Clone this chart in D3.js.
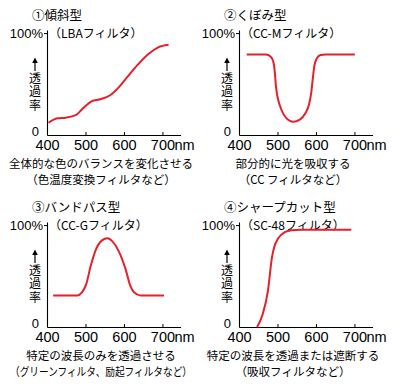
<!DOCTYPE html>
<html>
<head>
<meta charset="utf-8">
<script src="https://cdn.jsdelivr.net/npm/d3@7"></script>
<style>
  body { margin: 0; background: #fff; }
  svg { display: block; font-family: 'Liberation Sans', 'Noto Sans CJK JP', sans-serif; }
  .jp { font-family: 'Noto Sans CJK JP', sans-serif; }
</style>
</head>
<body>
<script>
// Width and height
const w = 394;
const h = 387;

// Tick values / labels
const xTicks = [400, 500, 600, 700];
const yTicks = [0, 100];

// Panel texts
const titles = ['①傾斜型', '②くぼみ型', '③バンドパス型', '④シャープカット型'];
const subtitles = ['（LBAフィルタ）', '（CC-Mフィルタ）', '（CC-Gフィルタ）', '（SC-48フィルタ）'];
const captions1 = ['全体的な色のバランスを変化させる', '部分的に光を吸収する', '特定の波長のみを透過させる', '特定の波長を透過または遮断する'];
const captions2 = ['（色温度変換フィルタなど）', '（CC フィルタなど）', '（グリーンフィルタ、励起フィルタなど）', '（吸収フィルタなど）'];
const yLabel = '透過率';

// Curves: wavelength (nm) and transmittance (%)
const slopeNm = [404, 427, 449, 476, 493, 516, 538, 564, 587, 609, 636, 662, 689, 716];
const slopePct = [12, 16.4, 17, 19.7, 26, 33, 35, 39, 47, 57, 69, 79, 86, 88.5];

const dipNm = [420, 470, 482, 489, 493, 496, 501, 510, 522, 541, 558, 572, 582, 588, 592, 596, 602, 612, 625, 701];
const dipPct = [79, 79, 77, 72, 62, 48, 36, 25, 17, 13, 15, 21, 30, 42, 56, 68, 75, 78.5, 79, 79];

const bandNm = [416, 478, 491, 502, 513, 526, 543, 557, 570, 587, 604, 617, 626, 643, 704];
const bandPct = [31, 31, 34, 42, 59, 75, 85, 87, 84, 74, 57, 40, 34, 31, 31];

const cutNm = [447, 462, 475, 486, 492, 502, 519, 537, 560, 692];
const cutPct = [0, 13, 35, 69, 79, 87, 93, 95, 95.5, 95.5];

const curves = [
  [slopeNm, slopePct],
  [dipNm, dipPct],
  [bandNm, bandPct],
  [cutNm, cutPct]
];

// Panel offsets
const offsets = [[0, 0], [192, 0], [0, 192], [192, 192]];

// Scales (panel-local)
const x = d3.scaleLinear().domain([400, 747]).range([47, 180.5]);
const y = d3.scaleLinear().domain([0, 103]).range([135, 30]);

const line = d3
  .line()
  .x(d => x(d[0]))
  .y(d => y(d[1]))
  .curve(d3.curveMonotoneX);

const svg = d3
  .select('body')
  .append('svg')
  .attr('width', w)
  .attr('height', h);

titles.forEach((title, i) => {
  const g = svg
    .append('g')
    .attr('transform', 'translate(' + offsets[i][0] + ',' + offsets[i][1] + ')');

  // Title and subtitle
  g.append('text')
    .attr('class', 'jp')
    .attr('x', 32)
    .attr('y', 19.5)
    .style('font-size', '12.5px')
    .text(title);
  g.append('text')
    .attr('class', 'jp')
    .attr('x', 49)
    .attr('y', 37.5)
    .style('font-size', '12px')
    .text(subtitles[i]);

  // X axis
  const xAxis = g
    .append('g')
    .attr('transform', 'translate(0,' + y(0) + ')')
    .call(
      d3
        .axisBottom(x)
        .tickValues(xTicks)
        .tickSize(-3)
        .tickSizeOuter(0)
        .tickPadding(5)
    );
  xAxis.selectAll('text').style('font-size', '14.5px').attr('fill', '#000').style('font-family', 'Liberation Sans');
  // "nm" after 700
  const last = xAxis.selectAll('.tick text').filter(d => d === 700);
  const lw = last.node().getComputedTextLength();
  xAxis
    .append('text')
    .attr('x', x(700) + lw / 2)
    .attr('y', 5)
    .attr('dy', '0.71em')
    .attr('text-anchor', 'start')
    .attr('fill', '#000')
    .style('font-size', '14.5px')
    .style('font-family', 'Liberation Sans')
    .text('nm');

  // Y axis
  const yAxis = g
    .append('g')
    .attr('transform', 'translate(' + x(400) + ',0)')
    .call(
      d3
        .axisLeft(y)
        .tickValues(yTicks)
        .tickSize(3)
        .tickSizeOuter(0)
        .tickPadding(1)
        .tickFormat(d => (d ? '100%' : '0'))
    );
  yAxis.selectAll('text').style('font-size', '13px').attr('fill', '#000').style('font-family', 'Liberation Sans');
  const zero = yAxis.selectAll('.tick').filter(d => d === 0);
  zero.select('line').remove();
  zero.select('text').attr('x', -8).attr('dy', '0.05em');
  g.selectAll('.domain').attr('stroke', '#000').attr('stroke-width', 1.1);

  // Y label: arrow + vertical characters
  g.append('line')
    .attr('x1', 35)
    .attr('x2', 35)
    .attr('y1', 71)
    .attr('y2', 61)
    .attr('stroke', '#000')
    .attr('stroke-width', 1.2);
  g.append('path')
    .attr('d', 'M32.2,63 L35,57.5 L37.8,63 Z')
    .attr('fill', '#000');
  g.append('text')
    .attr('class', 'jp')
    .attr('x', 35)
    .attr('y', 72)
    .style('writing-mode', 'vertical-rl')
    .style('letter-spacing', '1.5px')
    .style('font-size', '12px')
    .text(yLabel);

  // Curve
  const pts = curves[i][0].map((nm, j) => [nm, curves[i][1][j]]);
  g.append('path')
    .attr('d', line(pts))
    .attr('fill', 'none')
    .attr('stroke', '#e6202a')
    .attr('stroke-width', 2);

  // Captions
  g.append('text')
    .attr('class', 'jp')
    .attr('x', 101)
    .attr('y', 168)
    .attr('text-anchor', 'middle')
    .style('font-size', '11.5px')
    .text(captions1[i]);
  const c2 = g
    .append('text')
    .attr('class', 'jp')
    .attr('x', 101)
    .attr('y', 183.5)
    .attr('text-anchor', 'middle')
    .style('font-size', '11.5px')
    .text(captions2[i]);
  // keep the long caption inside the panel
  if (c2.node().getComputedTextLength() > 182) {
    c2.attr('textLength', 182).attr('lengthAdjust', 'spacingAndGlyphs');
  }
});
</script>
</body>
</html>
